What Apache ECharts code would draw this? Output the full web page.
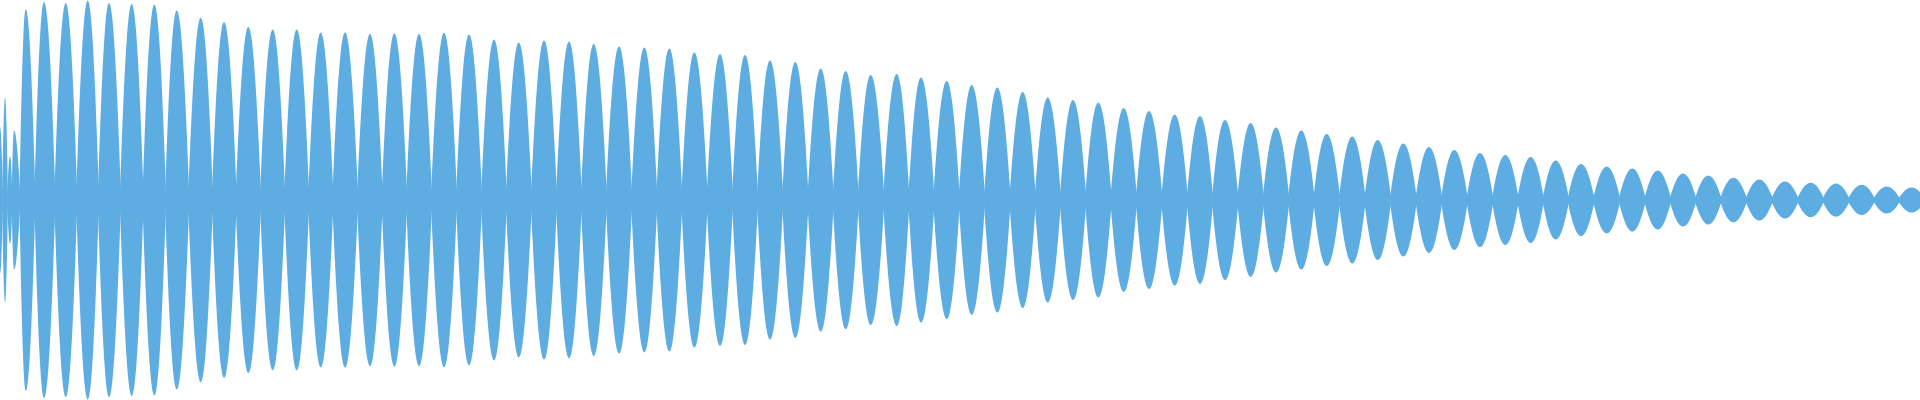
<!DOCTYPE html>
<html>
<head>
<meta charset="utf-8">
<script src="https://cdn.jsdelivr.net/npm/echarts@6/dist/echarts.min.js"></script>
<style>
html,body{margin:0;padding:0;background:#ffffff;}
#c{width:1920px;height:400px;}
</style>
</head>
<body>
<div id="c"></div>
<script>
// Time position of each beat lobe (peak of the envelope)
const lobeTimes = [
  0, 5, 10, 14, 25.7, 44, 65.7, 87.7, 109, 131.7, 154.3, 176.7,
  200.7, 224, 248.3, 272.7, 296.7, 320.7, 345, 370, 394.3, 419,
  444, 469, 494, 518.7, 544, 569, 593.7, 619, 644.3, 669.3, 694.3,
  720, 745, 770, 795.3, 820.7, 845.7, 870.7, 896.7, 921, 946.7,
  971.7, 997.3, 1022.7, 1047.7, 1073, 1098.3, 1123.7, 1149, 1174.7,
  1200, 1225, 1250.7, 1276, 1301.3, 1326.7, 1352.3, 1377.7, 1403.3,
  1429, 1454.3, 1480, 1505.3, 1530.7, 1555.7, 1581, 1606.7, 1632.3,
  1657.7, 1683, 1708.3, 1733.3, 1759.3, 1785, 1810.7, 1836, 1861.7,
  1886.7, 1911.7
];
// Peak amplitude of each lobe (normalised, full scale = 1)
const lobePeaks = [
  0.368, 0.513, 0.22, 0.348, 0.955, 0.99, 0.985, 0.997, 0.985, 0.98, 0.978, 0.948,
  0.911, 0.89, 0.865, 0.852, 0.852, 0.837, 0.837, 0.83, 0.832, 0.83,
  0.836, 0.827, 0.802, 0.787, 0.797, 0.792, 0.78, 0.767, 0.762, 0.758, 0.737,
  0.73, 0.725, 0.698, 0.69, 0.658, 0.645, 0.625, 0.63, 0.613, 0.595,
  0.575, 0.563, 0.54, 0.513, 0.5, 0.487, 0.46, 0.445, 0.428,
  0.42, 0.4, 0.385, 0.362, 0.348, 0.33, 0.318, 0.3, 0.283,
  0.265, 0.25, 0.235, 0.225, 0.215, 0.198, 0.18, 0.168, 0.158,
  0.148, 0.133, 0.123, 0.111, 0.103, 0.093, 0.086, 0.083, 0.076,
  0.068, 0.063
];
const waveColor = '#5dade2';

const chart = echarts.init(document.getElementById('c'), null, {renderer: 'canvas'});
const data = lobeTimes.map((t, i) => [t, lobePeaks[i]]);

function renderLobe(params, api) {
  const i = params.dataIndex;
  const t = api.value(0), a = api.value(1);
  const tPrev = i > 0 ? lobeTimes[i - 1] : null;
  const tNext = i < lobeTimes.length - 1 ? lobeTimes[i + 1] : null;
  const tL = tPrev != null ? (tPrev + t) / 2 : t - (tNext - t) / 2;
  const tR = tNext != null ? (tNext + t) / 2 : t + (t - tPrev) / 2;
  const pc = api.coord([t, 0]);
  const pt = api.coord([t, a]);
  const xl = api.coord([tL, 0])[0] - 0.35;
  const xr = api.coord([tR, 0])[0] + 0.35;
  const xc = pc[0], cy = pc[1];
  const A = cy - pt[1];
  const n = Math.min(A, 1.5 + 0.04 * A);
  const hL = xc - xl, hR = xr - xc;
  const k1 = 0.3, k2 = 0.55, k3 = 0.38;
  const m = k2 * (A - n);
  const d = [
    'M', xl, cy - n,
    'C', xl + k1 * hL, cy - n - m, xc - k3 * hL, cy - A, xc, cy - A,
    'C', xc + k3 * hR, cy - A, xr - k1 * hR, cy - n - m, xr, cy - n,
    'L', xr, cy + n,
    'C', xr - k1 * hR, cy + n + m, xc + k3 * hR, cy + A, xc, cy + A,
    'C', xc - k3 * hL, cy + A, xl + k1 * hL, cy + n + m, xl, cy + n,
    'Z'
  ].join(' ');
  return {
    type: 'path',
    shape: {pathData: d},
    style: {fill: waveColor, stroke: null}
  };
}

chart.setOption({
  backgroundColor: '#ffffff',
  animation: false,
  grid: {left: 0, right: 0, top: 0, bottom: 0},
  xAxis: {type: 'value', min: 0, max: 1920, show: false},
  yAxis: {type: 'value', min: -1, max: 1, show: false},
  series: [{
    type: 'custom',
    renderItem: renderLobe,
    clip: true,
    data: data
  }]
});
</script>
</body>
</html>
